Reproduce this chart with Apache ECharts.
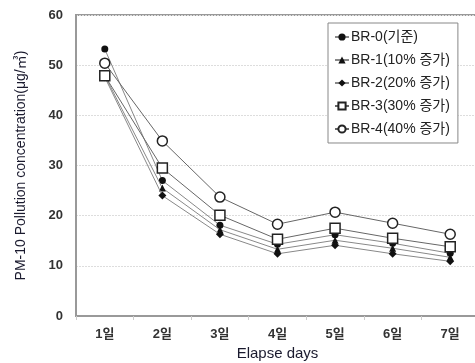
<!DOCTYPE html>
<html><head><meta charset="utf-8">
<script src="https://cdn.jsdelivr.net/npm/echarts@6/dist/echarts.min.js"></script>
<style>html,body{margin:0;padding:0;background:#fff}#c{width:475px;height:363px}</style>
</head><body><div id="c"></div>
<script>
const categories = ['1일','2일','3일','4일','5일','6일','7일'];
const seriesNames = ['BR-0(기준)','BR-1(10% 증가)','BR-2(20% 증가)','BR-3(30% 증가)','BR-4(40% 증가)'];
const br0 = [53.2, 27.0, 18.1, 14.3, 16.2, 14.5, 12.5];
const br1 = [47.9, 25.5, 17.2, 13.3, 15.1, 13.5, 11.7];
const br2 = [47.6, 24.0, 16.3, 12.4, 14.1, 12.4, 10.9];
const br3 = [47.9, 29.5, 20.1, 15.3, 17.5, 15.5, 13.8];
const br4 = [50.4, 34.9, 23.7, 18.3, 20.7, 18.5, 16.3];
const yTicks = [0, 10, 20, 30, 40, 50, 60];

const FONT = 'Liberation Sans, Arial, "Noto Sans CJK KR", sans-serif';
const data = [br0, br1, br2, br3, br4];
const symbols = ['circle','triangle','diamond','rect','circle'];
const filled = [true, true, true, false, false];
const sizes = [7, 7, 8, 10, 10];

const chart = echarts.init(document.getElementById('c'));
chart.setOption({
  animation: false,
  textStyle: {fontFamily: FONT},
  grid: {left: 76, top: 15, width: 403, height: 301, containLabel: false, outerBoundsMode: 'none',
    show: true, borderColor: '#999', borderWidth: 2, backgroundColor: 'transparent'},
  legend: {
    orient: 'vertical', left: 328, top: 23,
    data: seriesNames,
    itemWidth: 14, itemHeight: 9, itemGap: 9,
    borderColor: '#888', borderWidth: 1, padding: [7, 8, 7, 6],
    textStyle: {fontFamily: FONT, fontSize: 14, color: '#222', padding: [0,0,0,-3]},
    backgroundColor: '#fff'
  },
  xAxis: {
    type: 'category', data: categories, boundaryGap: true,
    axisLine: {lineStyle: {color: '#999', width: 2}},
    axisTick: {show: true, length: 4, lineStyle: {color: '#ccc'}},
    axisLabel: {fontFamily: FONT, fontSize: 13, fontWeight: 'bold', color: '#333', margin: 12},
    name: 'Elapse days', nameLocation: 'middle', nameGap: 29,
    nameTextStyle: {fontFamily: FONT, fontSize: 15, color: '#1a1a2e'}
  },
  yAxis: {
    type: 'value', min: 0, max: 60, interval: 10,
    axisLine: {show: true, lineStyle: {color: '#999', width: 2}},
    axisTick: {show: false},
    splitLine: {lineStyle: {color: '#ddd', type: [2, 1]}},
    axisLabel: {fontFamily: FONT, fontSize: 13, fontWeight: 'bold', color: '#333', margin: 13,
      formatter: v => yTicks.includes(v) ? String(v) : ''},
    name: 'PM-10 Pollution concentration(μg/㎥)', nameLocation: 'middle', nameGap: 48,
    nameTextStyle: {fontFamily: FONT, fontSize: 14, color: '#1a1a2e'}
  },
  series: seriesNames.map((n, i) => ({
    name: n, type: 'line', data: data[i],
    symbol: symbols[i], symbolSize: sizes[i], showSymbol: true,
    lineStyle: {color: i >= 3 ? '#666' : '#888', width: 1},
    itemStyle: {color: filled[i] ? '#111' : '#fff', borderColor: '#222', borderWidth: filled[i] ? 0 : 1.5},
    z: 2 + i
  }))
});
</script></body></html>
